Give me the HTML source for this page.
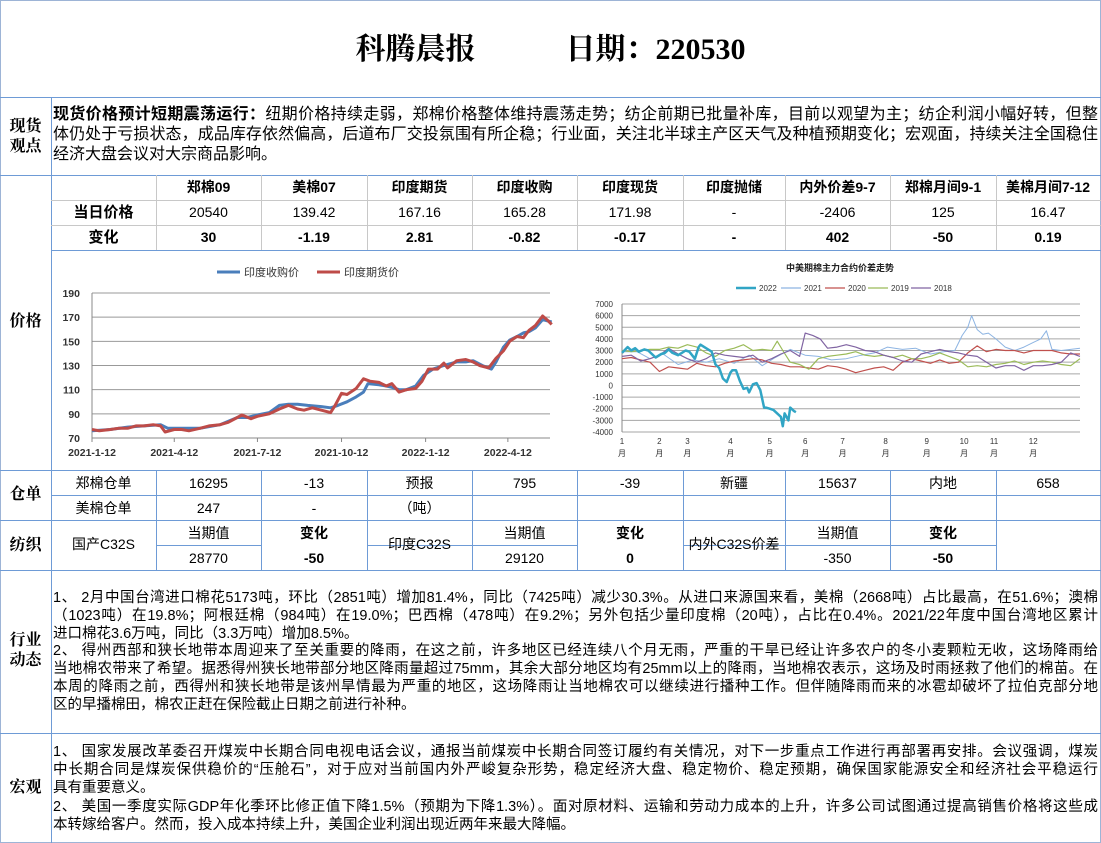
<!DOCTYPE html>
<html><head><meta charset="utf-8">
<style>
*{margin:0;padding:0;box-sizing:border-box}
body{width:1101px;height:843px;background:#fff;position:relative;overflow:hidden;font-family:"Liberation Sans","Noto Sans CJK SC",sans-serif;color:#000}
.a{position:absolute}
.hl{position:absolute;height:0;border-top:1px solid #6e9bd6}
.vl{position:absolute;width:0;border-left:1px solid #6e9bd6}
.gl{border-color:#c8c8c8}
.lab{position:absolute;left:0;width:51px;text-align:center;font-family:"Liberation Serif","Noto Serif CJK SC",serif;font-weight:bold;font-size:16px;line-height:20px}
.c{position:absolute;text-align:center;font-size:14px;font-family:"Liberation Sans","Noto Sans CJK SC",sans-serif;line-height:25px;height:25px}
.b{font-weight:bold}
.ln{position:absolute;left:53px;width:1045px;white-space:nowrap;text-align:justify;text-align-last:justify;transform-origin:0 0}
.p15{font-size:14.5px;line-height:18px}
.p16{font-size:16px;line-height:19.5px}
</style></head><body>
<div class="a" style="left:0;top:0;width:1101px;height:843px;border:1px solid #9db4d6"></div>
<div class="a" style="left:0;top:30px;width:1101px;text-align:center;font-family:'Liberation Serif','Noto Serif CJK SC',serif;font-weight:bold;font-size:30px;line-height:40px">科腾晨报&nbsp;&nbsp;&nbsp;&nbsp;&nbsp;&nbsp;&nbsp;&nbsp;&nbsp;&nbsp;&nbsp;&nbsp;日期：220530</div>

<div class="hl" style="left:0;top:97px;width:1101px"></div>
<div class="hl" style="left:0;top:175px;width:1101px"></div>
<div class="hl" style="left:51px;top:250px;width:1050px"></div>
<div class="hl" style="left:0;top:470px;width:1101px"></div>
<div class="hl" style="left:0;top:520px;width:1101px"></div>
<div class="hl" style="left:0;top:570px;width:1101px"></div>
<div class="hl" style="left:0;top:733px;width:1101px"></div>
<div class="vl" style="left:51px;top:97px;height:746px"></div>

<div class="lab" style="top:117px">现货<br>观点</div>
<div class="lab" style="top:312px">价格</div>
<div class="lab" style="top:485px">仓单</div>
<div class="lab" style="top:536px">纺织</div>
<div class="lab" style="top:631px">行业<br>动态</div>
<div class="lab" style="top:778px">宏观</div>

<div>
<div class="ln p16" style="top:105px"><b>现货价格预计短期震荡运行：</b>纽期价格持续走弱，郑棉价格整体维持震荡走势；纺企前期已批量补库，目前以观望为主；纺企利润小幅好转，但整</div>
<div class="ln p16" style="top:125px">体仍处于亏损状态，成品库存依然偏高，后道布厂交投氛围有所企稳；行业面，关注北半球主产区天气及种植预期变化；宏观面，持续关注全国稳住</div>
<div class="ln p16" style="top:145px;text-align-last:left">经济大盘会议对大宗商品影响。</div>
</div>

<div id="ptab"></div>

<svg class="a" style="left:0;top:0" width="1101" height="843" id="charts"></svg>

<div id="wtab"></div>

<div>
<div class="ln p15" style="top:589px">1、 2月中国台湾进口棉花5173吨，环比（2851吨）增加81.4%，同比（7425吨）减少30.3%。从进口来源国来看，美棉（2668吨）占比最高，在51.6%；澳棉</div>
<div class="ln p15" style="top:607px">（1023吨）在19.8%；阿根廷棉（984吨）在19.0%；巴西棉（478吨）在9.2%；另外包括少量印度棉（20吨），占比在0.4%。2021/22年度中国台湾地区累计</div>
<div class="ln p15" style="top:625px;text-align-last:left">进口棉花3.6万吨，同比（3.3万吨）增加8.5%。</div>
<div class="ln p15" style="top:642px">2、 得州西部和狭长地带本周迎来了至关重要的降雨，在这之前，许多地区已经连续八个月无雨，严重的干旱已经让许多农户的冬小麦颗粒无收，这场降雨给</div>
<div class="ln p15" style="top:660px">当地棉农带来了希望。据悉得州狭长地带部分地区降雨量超过75mm，其余大部分地区均有25mm以上的降雨，当地棉农表示，这场及时雨拯救了他们的棉苗。在</div>
<div class="ln p15" style="top:678px">本周的降雨之前，西得州和狭长地带是该州旱情最为严重的地区，这场降雨让当地棉农可以继续进行播种工作。但伴随降雨而来的冰雹却破坏了拉伯克部分地</div>
<div class="ln p15" style="top:696px;text-align-last:left">区的早播棉田，棉农正赶在保险截止日期之前进行补种。</div>
</div>

<div>
<div class="ln p15" style="top:743px">1、 国家发展改革委召开煤炭中长期合同电视电话会议，通报当前煤炭中长期合同签订履约有关情况，对下一步重点工作进行再部署再安排。会议强调，煤炭</div>
<div class="ln p15" style="top:761px">中长期合同是煤炭保供稳价的“压舱石”，对于应对当前国内外严峻复杂形势，稳定经济大盘、稳定物价、稳定预期，确保国家能源安全和经济社会平稳运行</div>
<div class="ln p15" style="top:779px;text-align-last:left">具有重要意义。</div>
<div class="ln p15" style="top:798px">2、 美国一季度实际GDP年化季环比修正值下降1.5%（预期为下降1.3%）。面对原材料、运输和劳动力成本的上升，许多公司试图通过提高销售价格将这些成</div>
<div class="ln p15" style="top:816px;text-align-last:left">本转嫁给客户。然而，投入成本持续上升，美国企业利润出现近两年来最大降幅。</div>
</div>

<script>
const colX=[51,156,261,367,472,577,683,785,890,996,1100];
const priceHeaders=['','郑棉09','美棉07','印度期货','印度收购','印度现货','印度抛储','内外价差9-7','郑棉月间9-1','美棉月间7-12'];
const priceToday=['当日价格','20540','139.42','167.16','165.28','171.98','-','-2406','125','16.47'];
const priceChange=['变化','30','-1.19','2.81','-0.82','-0.17','-','402','-50','0.19'];
const whRow1=['郑棉仓单','16295','-13','预报','795','-39','新疆','15637','内地','658'];
const whRow2=['美棉仓单','247','-','（吨）','','','','','',''];

function line(cls,l,t,w,h){const d=document.createElement('div');d.className=cls;d.style.left=l+'px';d.style.top=t+'px';if(w)d.style.width=w+'px';if(h)d.style.height=h+'px';document.body.appendChild(d);return d;}
function cell(txt,i,top,bold,h){const d=document.createElement('div');d.className='c'+(bold?' b':'');d.style.left=colX[i]+'px';d.style.width=(colX[i+1]-colX[i])+'px';d.style.top=top+'px';if(h){d.style.height=h+'px';d.style.lineHeight=h+'px';}d.textContent=txt;document.body.appendChild(d);return d;}

line('hl gl',51,200,1050);line('hl gl',51,225,1050);
for(let i=1;i<10;i++){line('vl gl',colX[i],175,0,75);}
priceHeaders.forEach((t,i)=>{const d=cell(t,i,175,true);

});
priceToday.forEach((t,i)=>{const d=cell(t,i,200,i==0);if(i==0)d.style.fontSize='15px';

});
priceChange.forEach((t,i)=>{const d=cell(t,i,225,true);if(i==0)d.style.fontSize='15px';

});

line('hl',51,495,1050);
for(let i=1;i<10;i++){line('vl',colX[i],470,0,50);}
whRow1.forEach((t,i)=>{const d=cell(t,i,471,false);

});
whRow2.forEach((t,i)=>{const d=cell(t,i,496,false);

});
line('hl',156,545,105);line('hl',367,545,210);line('hl',683,545,313);
for(let i=1;i<10;i++){line('vl',colX[i],520,0,50);}
const tx=[['国产C32S',0,null],['当期值',1,'28770'],['变化',2,'-50'],['印度C32S',3,null],['当期值',4,'29120'],['变化',5,'0'],['内外C32S价差',6,null],['当期值',7,'-350'],['变化',8,'-50']];
tx.forEach(([t,i,v])=>{
 if(v===null){const d=cell(t,i,522,false,44);
 
 }
 else{const isChg=(t==='变化');const h=cell(t,i,521,isChg);
 
 
 const d=cell(v,i,546,isChg);
 
 }
});

const NS='http://www.w3.org/2000/svg';
const svg=document.getElementById('charts');
function el(tag,attrs,txt){const e=document.createElementNS(NS,tag);for(const k in attrs)e.setAttribute(k,attrs[k]);if(txt!==undefined)e.textContent=txt;svg.appendChild(e);return e;}

const indiaTicks=[70,90,110,130,150,170,190];
const indiaXLabels=['2021-1-12','2021-4-12','2021-7-12','2021-10-12','2022-1-12','2022-4-12'];
const futDates=['2021-01-12','2021-01-20','2021-02-01','2021-02-10','2021-02-20','2021-03-01','2021-03-10','2021-03-20','2021-03-28','2021-04-02','2021-04-12','2021-04-20','2021-04-28','2021-05-10','2021-05-20','2021-06-01','2021-06-10','2021-06-20','2021-06-25','2021-07-05','2021-07-12','2021-07-25','2021-08-05','2021-08-15','2021-08-25','2021-09-01','2021-09-10','2021-09-20','2021-09-30','2021-10-05','2021-10-12','2021-10-18','2021-10-28','2021-11-05','2021-11-12','2021-11-22','2021-11-30','2021-12-06','2021-12-14','2021-12-22','2022-01-01','2022-01-08','2022-01-15','2022-01-25','2022-02-01','2022-02-05','2022-02-15','2022-02-25','2022-03-05','2022-03-12','2022-03-22','2022-03-30','2022-04-07','2022-04-14','2022-04-22','2022-04-29','2022-05-05','2022-05-12','2022-05-20','2022-05-26','2022-05-30'];
const futValues=[77,76,77,78,78,80,80,81,80,75,77,77,76,78,80,81,83,87,89,86,88,90,94,97,94,93,95,93,91,97,107,106,111,119,117,116,113,115,108,110,111,117,127,127,132,128,134,135,133,130,128,136,142,150,154,153,159,163,171,167,164];
const procDates=['2021-01-12','2021-02-01','2021-02-20','2021-03-10','2021-03-28','2021-04-05','2021-04-20','2021-05-10','2021-06-01','2021-06-20','2021-07-01','2021-07-12','2021-07-25','2021-08-05','2021-08-15','2021-08-25','2021-09-05','2021-09-20','2021-09-30','2021-10-08','2021-10-18','2021-10-28','2021-11-05','2021-11-10','2021-11-22','2021-11-30','2021-12-06','2021-12-14','2021-12-22','2022-01-01','2022-01-10','2022-01-20','2022-02-01','2022-02-15','2022-02-25','2022-03-05','2022-03-15','2022-03-25','2022-03-30','2022-04-07','2022-04-14','2022-04-22','2022-04-29','2022-05-05','2022-05-12','2022-05-20','2022-05-30'];
const procValues=[76,77,79,80,81,78,78,78,81,87,87,89,91,97,98,98,97,96,95,97,100,104,108,115,114,113,112,110,110,113,122,127,130,133,133,134,130,127,133,145,151,154,157,158,161,168,166];

const D0=Date.UTC(2021,0,12);
function dayOf(s){const p=s.split('-').map(Number);return (Date.UTC(p[0],p[1]-1,p[2])-D0)/864e5;}
const lx=d=>92+d*0.914;
const ly=v=>438-(v-70)/120*145;
indiaTicks.forEach(v=>{
 const g=el('line',{x1:92,x2:550,y1:ly(v),y2:ly(v),stroke:v===70?'#888':'#999','stroke-width':1});
 
 
 const t=el('text',{x:80,y:ly(v)+4,'text-anchor':'end','font-size':10.5,'font-weight':'bold',fill:'#333'},v);
 
 
});
el('line',{x1:92,x2:92,y1:ly(190),y2:438,stroke:'#888'});
indiaXLabels.forEach(s=>{
 const p=s.split('-');const d=dayOf(p[0]+'-'+p[1].padStart(2,'0')+'-'+p[2]);
 const tk=el('line',{x1:lx(d),x2:lx(d),y1:438,y2:442,stroke:'#888'});
 
 
 const t=el('text',{x:lx(d),y:456,'text-anchor':'middle','font-size':10.5,'font-weight':'bold',fill:'#333'},s);
 
 
});
function poly(dates,vals,color,w,name){
 const pts=dates.map((s,i)=>lx(dayOf(s)).toFixed(1)+','+ly(vals[i]).toFixed(1)).join(' ');
 const p=el('polyline',{points:pts,fill:'none',stroke:color,'stroke-width':w,'stroke-linejoin':'round'});
 
 
}
poly(procDates,procValues,'#4a7ebb',3,'india-procurement-line');
poly(futDates,futValues,'#be4b48',3,'india-futures-line');
el('line',{x1:217,x2:240,y1:272,y2:272,stroke:'#4a7ebb','stroke-width':3});
const lg1=el('text',{x:244,y:276,'font-size':11,fill:'#333'},'印度收购价');


el('line',{x1:317,x2:340,y1:272,y2:272,stroke:'#be4b48','stroke-width':3});
const lg2=el('text',{x:344,y:276,'font-size':11,fill:'#333'},'印度期货价');



const spreadTicks=[7000,6000,5000,4000,3000,2000,1000,0,-1000,-2000,-3000,-4000];
const monthLabels=['1','2','3','4','5','6','7','8','9','10','11','12'];
const monthStartIdx=[0,20,35,58,79,98,118,141,163,183,199,220];
const s2022Idx=[0,3,5,7,9,12,14,16,18,21,23,25,27,30,32,34,36,39,41,42,45,48,50,52,54,56,58,59,61,63,65,67,68,70,72,74,76,77,79,81,83,85,86,87,89,90,92,93];
const s2022Val=[2800,3300,3000,3200,2900,3100,3000,2700,2400,2700,2800,3100,2800,2600,2800,3000,2900,2300,3300,3500,3200,2900,1800,1500,600,300,1100,1300,1300,400,-300,-200,-600,100,200,-400,-1900,-1900,-2000,-2100,-2400,-2700,-3500,-2400,-3000,-1900,-2200,-2300];
const s2021Idx=[0,8,15,22,30,38,45,52,60,68,75,82,90,98,105,112,120,128,135,142,150,157,165,172,178,182,185,187,190,193,196,200,205,210,215,220,224,227,230,235,240,245];
const s2021Val=[2900,2900,2300,2700,1800,2200,2000,2300,1900,2600,1700,2400,3100,2600,2500,2200,2300,2600,2800,3300,3100,3200,2700,2900,3000,4300,5000,6000,4800,4400,4500,4000,3300,3000,3300,3700,4000,4700,3100,3000,3100,3200];
const s2020Idx=[0,5,10,15,20,25,30,35,40,45,50,55,60,65,70,75,80,85,90,95,100,105,110,115,120,125,130,135,140,145,150,155,160,165,170,175,180,185,190,195,200,205,210,215,220,225,230,235,240,245];
const s2020Val=[2300,2400,2200,2000,1200,1600,1500,1400,1900,1700,1600,1900,2100,2200,2300,2200,1900,1800,1600,1600,1500,1400,1700,1600,1400,1100,1300,1500,1600,1300,2000,2300,2100,1900,2200,1900,2000,2800,3400,2900,3100,3000,3000,2800,3000,3000,3000,2800,2700,2700];
const s2019Idx=[0,5,10,15,20,25,30,35,40,45,50,55,60,65,70,75,80,83,86,90,95,100,105,110,115,120,125,130,135,140,145,150,155,160,165,170,175,180,185,190,195,200,205,210,215,220,225,230,235,240,245];
const s2019Val=[3000,2900,3000,3100,3100,3300,3200,3500,3300,2800,2500,3000,3200,3500,3000,3100,3000,3800,3000,2000,1800,1400,2300,2500,2600,2700,2900,2600,2500,2600,2400,2600,2300,2300,2500,2800,2500,2200,1600,1700,1600,1800,1900,2100,1800,2000,2100,2000,1800,1700,2300];
const s2018Idx=[0,5,10,15,20,25,30,35,40,45,50,55,60,65,70,75,80,85,90,95,98,102,106,110,115,120,125,130,135,140,145,150,155,160,165,170,175,180,185,190,195,200,205,210,215,220,225,230,235,240,245];
const s2018Val=[2500,2600,2100,2300,2600,3200,2700,2300,2000,2300,2800,2600,2500,2400,2600,2000,2300,2700,3000,2500,4500,4300,4000,3200,3300,3500,3300,3000,2900,2600,2400,2100,2000,2700,2900,3100,2900,2800,2600,2500,2000,1500,1700,1700,1300,1700,1700,1800,2000,2800,2500];

const rx=i=>622+i*(458/245);
const ry=v=>304+(7000-v)/11000*128;
spreadTicks.forEach(v=>{
 const g=el('line',{x1:622,x2:1080,y1:ry(v),y2:ry(v),stroke:'#a6a6a6','stroke-width':1});
 
 
 const t=el('text',{x:613,y:ry(v)+3,'text-anchor':'end','font-size':8,fill:'#333'},v);
 
 
});
el('line',{x1:622,x2:622,y1:ry(7000),y2:ry(-4000),stroke:'#888'});
monthLabels.forEach((m,k)=>{
 const x=rx(monthStartIdx[k]);
 const t=el('text',{x:x,y:444,'text-anchor':'middle','font-size':8,fill:'#333'},m);
 
 
 const u=el('text',{x:x,y:456,'text-anchor':'middle','font-size':8,fill:'#333'},'月');
 
 
});
function sline(idx,vals,color,w,name){
 const pts=idx.map((i,k)=>rx(i).toFixed(1)+','+ry(vals[k]).toFixed(1)).join(' ');
 const p=el('polyline',{points:pts,fill:'none',stroke:color,'stroke-width':w,'stroke-linejoin':'round'});
 
 
}
sline(s2021Idx,s2021Val,'#8db4e2',1,'spread-2021-line');
sline(s2020Idx,s2020Val,'#c0504d',1.2,'spread-2020-line');
sline(s2019Idx,s2019Val,'#9bbb59',1.2,'spread-2019-line');
sline(s2018Idx,s2018Val,'#8064a2',1.2,'spread-2018-line');
sline(s2022Idx,s2022Val,'#31a5c5',2.5,'spread-2022-line');
const tt=el('text',{x:840,y:271,'text-anchor':'middle','font-size':9,'font-weight':'bold',fill:'#222'},'中美期棉主力合约价差走势');


const legendYears=['2022','2021','2020','2019','2018'];
const legendCols=['#31a5c5','#8db4e2','#c0504d','#9bbb59','#8064a2'];
const legendX=[736,781,825,868,911];
legendYears.forEach((y,k)=>{
 el('line',{x1:legendX[k],x2:legendX[k]+20,y1:288,y2:288,stroke:legendCols[k],'stroke-width':k===0?2.5:1.2});
 const t=el('text',{x:legendX[k]+23,y:291,'font-size':8,fill:'#333'},y);
 
 
});

document.querySelectorAll('.ln').forEach(d=>{
 const w=d.scrollWidth;if(w>1046){d.style.transform='scaleX('+(1045/w)+')';}
});
</script>
</body></html>
